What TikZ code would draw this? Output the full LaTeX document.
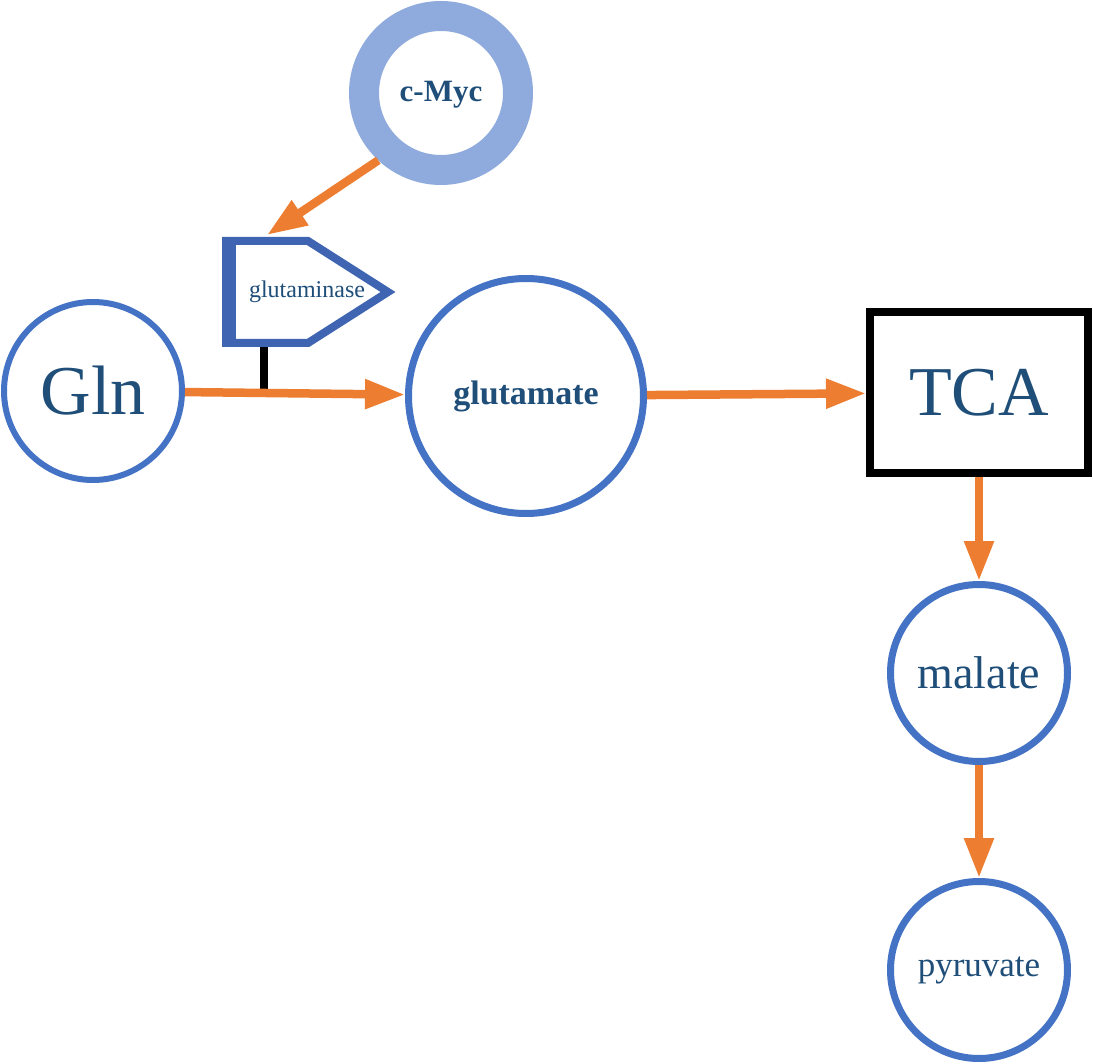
\documentclass[tikz,border=0pt]{standalone}
\usepackage{fontspec}
\setmainfont{Liberation Serif}
\usetikzlibrary{arrows.meta}
\definecolor{txt}{HTML}{1F4E79}
\definecolor{cblue}{HTML}{4472C4}
\definecolor{ring}{HTML}{8FAADC}
\definecolor{gbl}{HTML}{3E64B2}
\definecolor{orng}{HTML}{ED7D31}
\begin{document}
\begin{tikzpicture}[x=0.5pt,y=-0.5pt,
  met/.style={circle,draw=cblue,fill=white,text=txt,inner sep=0pt},
  flow/.style={draw=orng,line width=4.25pt,-{Triangle[length=20pt,width=14pt]}}]
\useasboundingbox (0,0) rectangle (1093,1064);
% nodes
\node[met,line width=15pt,draw=ring,minimum size=77pt,font=\bfseries\fontsize{15.5}{18}\selectfont] (myc) at (441,93) {};
\node[text=txt,font=\bfseries\fontsize{15.5}{18}\selectfont] (myct) at (441,95) {c-Myc};
\node[met,line width=3pt,minimum size=89pt,font=\fontsize{35}{40}\selectfont] (gln) at (93,391) {Gln};
\node[met,line width=3.5pt,minimum size=117.5pt,font=\bfseries\fontsize{17}{20}\selectfont] (glu) at (526,396) {glutamate};
\node[draw=black,line width=4pt,minimum width=109pt,minimum height=80.5pt,inner sep=0pt,text=txt,font=\fontsize{35}{40}\selectfont] (tca) at (979,392.5) {TCA};
\node[met,line width=3.5pt,minimum size=88.5pt,font=\fontsize{23}{26}\selectfont] (mal) at (979,673) {malate};
\node[met,line width=3.5pt,minimum size=88.5pt,font=\fontsize{17.5}{20}\selectfont] (pyr) at (979,970) {pyruvate};
% glutaminase shape
\draw[draw=gbl,line width=4pt,miter limit=10,fill=white] (226,241) -- (308,241) -- (388,292) -- (308,343) -- (226,343) -- cycle;
\fill[gbl] (222,237) rectangle (236,347);
\node[text=txt,font=\fontsize{12}{14}\selectfont] (glut) at (307,292) {glutaminase};
\coordinate (gtop) at (267,235);
\coordinate (gbot) at (264,347);
\coordinate (bar) at (264,392);
% connectors
\draw[line width=4pt,black] (gbot) -- (bar);
\draw[flow] (gln) -- (glu);
\draw[flow] (glu) -- (tca);
\draw[flow] (tca) -- (mal);
\draw[flow] (mal) -- (pyr);
\draw[flow] (myc.227) -- (gtop);
\end{tikzpicture}
\end{document}
